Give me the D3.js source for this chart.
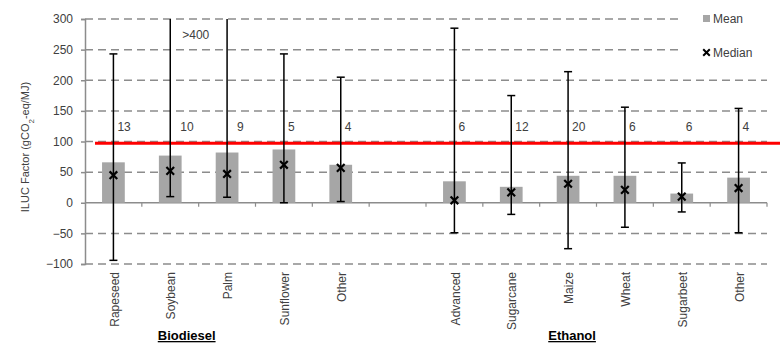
<!DOCTYPE html>
<html><head><meta charset="utf-8">
<script src="https://cdn.jsdelivr.net/npm/d3@7"></script>
<style>body{margin:0;background:#fff;} text{font-family:"Liberation Sans",Arial,sans-serif;}</style>
</head><body>
<svg id="chart" width="780" height="355"></svg>
<script>
const categories = ["Rapeseed","Soybean","Palm","Sunflower","Other","","Advanced","Sugarcane","Maize","Wheat","Sugarbeet","Other"];
const means   = [66, 77, 82, 87, 62, null, 35, 26, 44, 44, 15, 41];
const medians = [45, 52, 47, 62, 57, null, 4, 17, 31, 21, 10, 24];
const mins    = [-94, 10, 9, 0, 2, null, -49, -19, -75, -40, -15, -49];
const maxs    = [243, 410, 410, 243, 205, null, 285, 175, 214, 156, 65, 154];
const counts  = [13, 10, 9, 5, 4, null, 6, 12, 20, 6, 6, 4];
const yTicks  = [-100, -50, 0, 50, 100, 150, 200, 250, 300];
const threshold = 97;
const groups = [{name:"Biodiesel", from:1, to:2}, {name:"Ethanol", from:8, to:8}];
const overflowLabel = ">400";

const svg = d3.select("#chart");
const idx = categories.map((d,i)=>i);
const x = d3.scaleBand().domain(idx).range([85, 767]).padding(0);
const y = d3.scaleLinear().domain([-100, 300]).range([264, 19]);
const bw = x.bandwidth();
const cx = i => x(i) + bw/2;
const grey = "#8c8c8c";

// gridlines
svg.append("g").selectAll("line").data(yTicks.filter(t=>t!==0)).join("line")
  .attr("x1", 85).attr("x2", t => t >= 250 ? 678 : 767)
  .attr("y1", t=>y(t)).attr("y2", t=>y(t))
  .attr("stroke", grey).attr("stroke-width", 1.5).attr("stroke-dasharray", "8,5");

// y axis
const yAxis = svg.append("g").attr("transform","translate(85,0)")
  .call(d3.axisLeft(y).tickValues(yTicks).tickSize(4).tickPadding(8));
yAxis.select(".domain").attr("stroke", grey).attr("stroke-width", 1.5);
yAxis.selectAll(".tick line").attr("stroke", grey).attr("stroke-width", 1.5);
yAxis.selectAll(".tick text").attr("fill","#404040").style("font-size","12px")
  .style("font-family","'Liberation Sans',Arial,sans-serif");

// zero axis
svg.append("line").attr("x1",85).attr("x2",767).attr("y1",y(0)).attr("y2",y(0))
  .attr("stroke",grey).attr("stroke-width",1.5);
svg.append("g").selectAll("line").data(idx.slice(1).concat([idx.length])).join("line")
  .attr("x1", i => 85 + i*bw).attr("x2", i => 85 + i*bw)
  .attr("y1", y(0)).attr("y2", y(0)+4).attr("stroke", grey).attr("stroke-width",1.2);

// bars
const barW = bw*0.4;
svg.append("g").selectAll("rect").data(idx.filter(i=>means[i]!=null)).join("rect")
  .attr("x", i => cx(i)-barW/2).attr("width", barW)
  .attr("y", i => y(means[i])).attr("height", i => y(0)-y(means[i]))
  .attr("fill", "#a6a6a6");

// red threshold
svg.append("line").attr("x1", 95).attr("x2", 780)
  .attr("y1", y(threshold)).attr("y2", y(threshold))
  .attr("stroke", "#ff0000").attr("stroke-width", 3);

// error bars
const eb = svg.append("g").attr("stroke","#000").attr("stroke-width",1.5);
idx.filter(i=>mins[i]!=null).forEach(i=>{
  const top = Math.min(maxs[i], 300);
  eb.append("line").attr("x1",cx(i)).attr("x2",cx(i)).attr("y1",y(mins[i])).attr("y2",y(top));
  eb.append("line").attr("x1",cx(i)-4).attr("x2",cx(i)+4).attr("y1",y(mins[i])).attr("y2",y(mins[i]));
  if (maxs[i] <= 300)
    eb.append("line").attr("x1",cx(i)-4).attr("x2",cx(i)+4).attr("y1",y(maxs[i])).attr("y2",y(maxs[i]));
});

// median markers
const xm = d3.symbol().type(d3.symbolX).size(40);
svg.append("g").selectAll("path").data(idx.filter(i=>medians[i]!=null)).join("path")
  .attr("d", xm).attr("transform", i => `translate(${cx(i)},${y(medians[i])})`)
  .attr("fill","none").attr("stroke","#000").attr("stroke-width",2.2);

// count labels
svg.append("g").selectAll("text").data(idx.filter(i=>counts[i]!=null)).join("text")
  .attr("x", i => cx(i) + (maxs[i] > 300 ? 10 : 4)).attr("y", y(124)).attr("dy","0.35em")
  .attr("fill","#404040").style("font-size","12px").text(i => counts[i]);

// overflow label
svg.append("text").attr("x", cx(1)+12).attr("y", y(275)).attr("dy","0.35em")
  .attr("fill","#404040").style("font-size","12px").text(overflowLabel);

// x category labels
svg.append("g").selectAll("text").data(idx.filter(i=>categories[i]!=="")).join("text")
  .attr("transform", i => `translate(${cx(i)+1},272) rotate(-90)`)
  .attr("text-anchor","end").attr("dy","0.35em")
  .attr("fill","#404040").style("font-size","12px").text(i => categories[i]);

// group labels
svg.append("g").selectAll("text").data(groups).join("text")
  .attr("x", g => (cx(g.from)+cx(g.to))/2 + (g.name==="Ethanol"?4:-12)).attr("y", 340)
  .attr("text-anchor","middle").attr("fill","#000")
  .style("font-size","13px").style("font-weight","bold").style("text-decoration","underline")
  .text(g => g.name);

// y axis title
const yt = svg.append("text").attr("transform","translate(29,147) rotate(-90)")
  .attr("text-anchor","middle").attr("fill","#404040").style("font-size","11px");
yt.append("tspan").text("ILUC Factor (gCO");
yt.append("tspan").attr("baseline-shift","sub").style("font-size","8px").text("2");
yt.append("tspan").text("-eq/MJ)");

// legend
const lg = svg.append("g");
lg.append("rect").attr("x",703).attr("y",15).attr("width",7).attr("height",7).attr("fill","#a6a6a6");
lg.append("text").attr("x",713).attr("y",18.5).attr("dy","0.35em").attr("fill","#404040").style("font-size","12px").text("Mean");
lg.append("path").attr("d", d3.symbol().type(d3.symbolX).size(30)).attr("transform","translate(706.5,52.5)")
  .attr("stroke","#000").attr("stroke-width",2).attr("fill","none");
lg.append("text").attr("x",713).attr("y",53).attr("dy","0.35em").attr("fill","#404040").style("font-size","12px").text("Median");
</script>
</body></html>
